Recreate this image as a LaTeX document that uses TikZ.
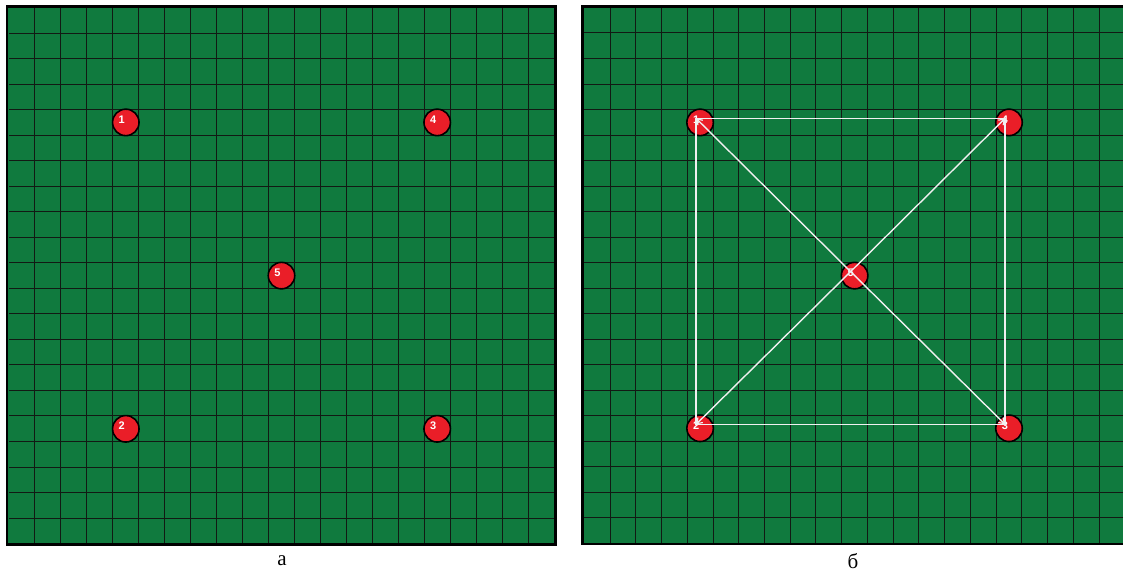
\documentclass[tikz,border=0pt]{standalone}
\usepackage{fontspec}
\setmainfont{Liberation Serif}
\newfontfamily\numfont{Liberation Sans}
\usetikzlibrary{arrows.meta,calc}
\definecolor{fieldgreen}{RGB}{16,122,62}
\definecolor{gridcol}{RGB}{18,26,20}
\definecolor{ballred}{RGB}{234,30,40}
\definecolor{linewhite}{RGB}{240,240,240}
\tikzset{
  field/.style={fill=fieldgreen},
  gridline/.style={draw=gridcol, line width=1pt},
  frame/.style={draw=black, line width=2.8pt},
  ball/.style={circle, fill=ballred, draw=black, line width=1.6pt, minimum size=26.5pt, inner sep=0pt},
  num/.style={text=white, font=\numfont\bfseries\fontsize{11}{11}\selectfont, inner sep=0pt},
  link/.style={draw=linewhite, line width=1.4pt},
  tip/.style={link, -{Straight Barb[length=5pt,width=7pt,line width=1.2pt]}},
  caption/.style={font=\fontsize{21}{21}\selectfont, inner sep=0pt}
}
\begin{document}
\begin{tikzpicture}[x=1pt,y=-1pt]
\useasboundingbox (0,0) rectangle (1123,578);
\clip (0,0) rectangle (1123,578);
% ---------- left panel ----------
\fill[field] (6,6) rectangle (555,544);
\foreach \i in {1,...,20} {
  \draw[gridline] ({9+\i*25.95},7.5) -- ({9+\i*25.95},543.5);
  \draw[gridline] (9,{7.5+\i*25.53}) -- (554,{7.5+\i*25.53});
}
\draw[frame] (7,6.5) rectangle (555.5,544.5);
\node[ball] (a1) at (125.8,122.4) {};
\node[ball] (a4) at (437.2,122.4) {};
\node[ball] (a5) at (281.5,275.6) {};
\node[ball] (a2) at (125.8,428.8) {};
\node[ball] (a3) at (437.2,428.8) {};
\foreach \k in {1,...,5} \node[num] (na\k) at ($(a\k)+(-4,-3)$) {\k};
\node[caption] (capa) at (282,561) {а};
% ---------- right panel ----------
\fill[field] (582.5,6.5) rectangle (1130,543);
\foreach \i in {1,...,21} {
  \draw[gridline] ({584.3+\i*25.74},7.5) -- ({584.3+\i*25.74},543);
}
\foreach \i in {1,...,20} {
  \draw[gridline] (584.3,{7.5+\i*25.5}) -- (1130,{7.5+\i*25.5});
}
\draw[frame] (582.5,6.5) rectangle (1135,544);
\node[ball] (b1) at (700.1,122.4) {};
\node[ball] (b4) at (1009,122.4) {};
\node[ball] (b5) at (854.6,275.6) {};
\node[ball] (b2) at (700.1,428.3) {};
\node[ball] (b3) at (1009,428.3) {};
\foreach \k in {1,...,5} {
  \node[num] (nb\k) at ($(b\k)+(-4,-3)$) {\k};
  \coordinate (p\k) at ($(b\k)+(-4,-4)$);
}
\draw[link] (p1) -- (p4) -- (p3) -- (p2) -- cycle;
\draw[tip] (p5) -- (p1);
\draw[tip] (p5) -- (p2);
\draw[tip] (p5) -- (p3);
\draw[tip] (p5) -- (p4);
\node[caption] (capb) at (853,561) {б};
\end{tikzpicture}
\end{document}
